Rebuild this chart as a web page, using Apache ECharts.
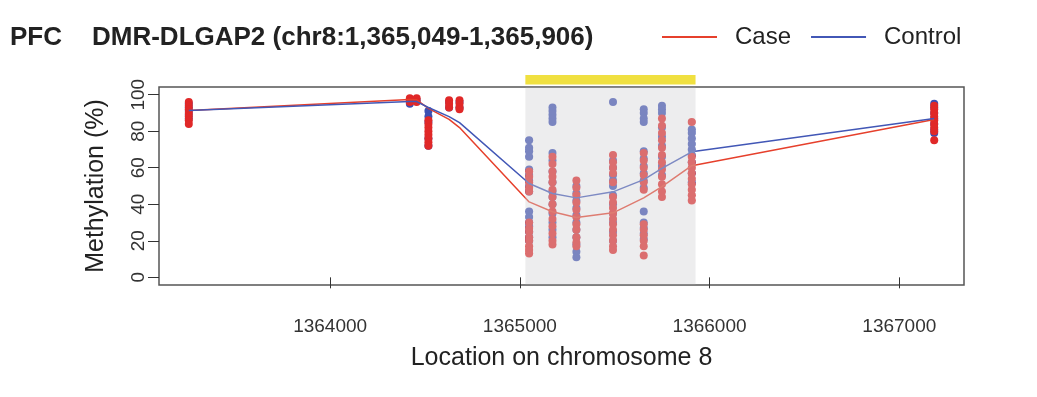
<!DOCTYPE html>
<html>
<head>
<meta charset="utf-8">
<script src="https://cdn.jsdelivr.net/npm/echarts@6/dist/echarts.min.js"></script>
<style>
  html, body { margin: 0; padding: 0; background: #fff; }
  #chart { width: 1037px; height: 397px; }
</style>
</head>
<body>
<div id="chart"></div>
<script>
// CpG positions on chr8
const cpgPos = [1363255, 1364420, 1364456, 1364518, 1364627, 1364682,
  1365049, 1365172, 1365298, 1365491, 1365653, 1365749, 1365906, 1367184];

// per-sample methylation (%) at each CpG
const caseVals = [
  [96, 94, 92, 90, 88, 86, 84],
  [98, 96],
  [98, 96],
  [86, 84, 82, 80, 78, 76, 74, 72],
  [97, 95, 93],
  [97, 95, 93, 92],
  [58, 55, 52, 49, 47, 30, 27, 25, 22, 20, 17, 15, 13],
  [66, 62, 58, 55, 52, 48, 44, 40, 36, 32, 28, 24, 20, 18],
  [53, 49, 45, 41, 37, 33, 29, 26, 22, 19, 17],
  [67, 63, 60, 57, 52, 44, 41, 38, 35, 32, 29, 26, 23, 20, 17, 15],
  [68, 64, 60, 56, 52, 48, 29, 26, 23, 20, 17, 12],
  [87, 83, 79, 75, 71, 67, 63, 59, 55, 51, 47, 44],
  [85, 66, 63, 60, 57, 54, 51, 48, 45, 42],
  [94, 92, 90, 88, 86, 84, 82, 80, 75]
];
const controlVals = [
  [95, 93, 91, 89, 87],
  [97, 95],
  [97],
  [91, 88, 85, 76, 72],
  [96, 93],
  [96, 93],
  [75, 71, 69, 66, 59, 56, 53, 50, 47, 36, 33, 30, 28, 25, 22, 20],
  [93, 91, 89, 87, 85, 68, 64, 58, 52, 47, 44, 40, 35, 30, 26, 22],
  [50, 46, 42, 38, 34, 30, 26, 22, 18, 14, 11],
  [96, 64, 60, 56, 53, 50, 45, 40, 35, 30, 25, 20],
  [92, 90, 87, 85, 69, 65, 61, 57, 53, 49, 36, 30, 27, 24, 21],
  [94, 92, 90, 82, 77, 72, 66, 61, 56],
  [81, 79, 76, 73, 70, 67, 63, 57, 52],
  [95, 93, 90, 87, 84, 81, 79]
];

// smoothed group curves
const caseLine = [91.4, 97.3, 97.2, 92.5, 86.5, 82, 41.3, 35.9, 32.8, 35.3, 43.5, 49.6, 61.1, 86.4];
const controlLine = [91.4, 96.2, 96.2, 93, 88, 84.7, 51.4, 45.9, 43.5, 46.8, 53.5, 59.6, 68.7, 86.9];

// highlighted DMR span (drawn slightly padded)
const dmrSpan = [1365029, 1365926];

const xTicks = [1364000, 1365000, 1366000, 1367000];
const yTicks = [0, 20, 40, 60, 80, 100];

const FONT = 'Liberation Sans, Arial, sans-serif';
const RED = '#e02828';
const BLUE = '#3c4fb2';

function points(vals) {
  const out = [];
  vals.forEach((arr, i) => arr.forEach(v => out.push([cpgPos[i], v])));
  return out;
}

const chart = echarts.init(document.getElementById('chart'));

chart.setOption({
  animation: false,
  title: [
    { text: 'PFC', left: 10, top: 25, padding: 0,
      textStyle: { fontFamily: FONT, fontSize: 26, fontWeight: 'bold', color: '#222' } },
    { text: 'DMR-DLGAP2 (chr8:1,365,049-1,365,906)', left: 92, top: 25, padding: 0,
      textStyle: { fontFamily: FONT, fontSize: 26, fontWeight: 'bold', color: '#222' } }
  ],
  legend: {
    left: 662, top: 25, padding: 0,
    icon: 'rect', itemWidth: 55, itemHeight: 2, itemGap: 20,
    data: ['Case', 'Control'],
    textStyle: { fontFamily: FONT, fontSize: 24, color: '#222', padding: [0, 0, 0, 13] }
  },
  grid: {
    left: 159, right: 73, top: 87, bottom: 112,
    show: true, borderColor: '#555', borderWidth: 1.5
  },
  xAxis: {
    type: 'value', min: 1363098, max: 1367341,
    name: 'Location on chromosome 8', nameLocation: 'middle', nameGap: 61,
    nameTextStyle: { fontFamily: FONT, fontSize: 25, color: '#222' },
    axisLine: { show: false },
    axisTick: { show: true, length: 11, customValues: xTicks, lineStyle: { color: '#333' } },
    axisLabel: { customValues: xTicks, margin: 32, fontFamily: FONT, fontSize: 19, color: '#333',
      formatter: v => String(v) },
    splitLine: { show: false }
  },
  yAxis: {
    type: 'value', min: -4.2, max: 104.2,
    name: 'Methylation (%)', nameLocation: 'middle', nameGap: 50,
    nameTextStyle: { fontFamily: FONT, fontSize: 25, color: '#222' },
    axisLine: { show: false },
    axisTick: { show: true, length: 11, customValues: yTicks, lineStyle: { color: '#333' } },
    axisLabel: { customValues: yTicks, rotate: 90, margin: 11, fontFamily: FONT, fontSize: 19, color: '#333' },
    splitLine: { show: false }
  },
  series: [
    {
      name: 'Control samples', type: 'scatter', symbolSize: 8, z: 2,
      itemStyle: { color: BLUE, opacity: 1 },
      data: points(controlVals)
    },
    {
      name: 'Case samples', type: 'scatter', symbolSize: 8, z: 2,
      itemStyle: { color: RED, opacity: 1 },
      data: points(caseVals)
    },
    {
      name: 'Case', type: 'line', symbol: 'none', z: 3,
      lineStyle: { color: '#e6402c', width: 1.5 }, itemStyle: { color: '#e6402c' },
      data: cpgPos.map((p, i) => [p, caseLine[i]])
    },
    {
      name: 'Control', type: 'line', symbol: 'none', z: 3,
      lineStyle: { color: '#4257b6', width: 1.5 }, itemStyle: { color: '#4257b6' },
      data: cpgPos.map((p, i) => [p, controlLine[i]])
    },
    {
      name: 'DMR', type: 'custom', z: 5, silent: true,
      data: [dmrSpan],
      renderItem: function (params, api) {
        const cs = params.coordSys;
        const x0 = api.coord([api.value(0), 0])[0];
        const x1 = api.coord([api.value(1), 0])[0];
        return {
          type: 'group',
          children: [
            { type: 'rect', shape: { x: x0, y: cs.y + 0.8, width: x1 - x0, height: cs.height - 1.6 },
              style: { fill: 'rgba(212,212,214,0.41)' } },
            { type: 'rect', shape: { x: x0, y: cs.y - 12, width: x1 - x0, height: 9.5 },
              style: { fill: '#f0e040' } }
          ]
        };
      }
    }
  ]
});
</script>
</body>
</html>
